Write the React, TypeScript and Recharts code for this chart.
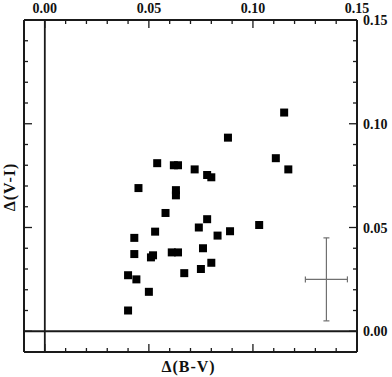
import { ScatterChart, Scatter, XAxis, YAxis, ReferenceLine, ErrorBar } from "recharts";

// Δ(B-V) and Δ(V-I) for each star
const deltaBV = [
  0.054, 0.062, 0.064, 0.072, 0.045, 0.063, 0.063, 0.058, 0.115, 0.088, 0.111, 0.117,
  0.078, 0.080, 0.078, 0.074, 0.103, 0.089, 0.083, 0.076, 0.080, 0.075, 0.067, 0.053,
  0.043, 0.043, 0.051, 0.052, 0.061, 0.064, 0.040, 0.044, 0.050, 0.040,
];
const deltaVI = [
  0.081, 0.080, 0.080, 0.078, 0.069, 0.068, 0.0655, 0.057, 0.1054, 0.0933, 0.0834, 0.078,
  0.0753, 0.0742, 0.054, 0.050, 0.0512, 0.0482, 0.0461, 0.040, 0.033, 0.030, 0.028, 0.048,
  0.045, 0.0372, 0.0356, 0.0366, 0.038, 0.038, 0.027, 0.025, 0.019, 0.010,
];

// typical error shown as a cross
const errX = [0.1353];
const errY = [0.025];
const errBV = [0.0101];
const errVI = [0.02];

const axisTicks = [0, 0.01, 0.02, 0.03, 0.04, 0.05, 0.06, 0.07, 0.08, 0.09, 0.1, 0.11, 0.12, 0.13, 0.14, 0.15];
const majorTicks = [0, 0.05, 0.1, 0.15];
const majorLabels = ["0.00", "0.05", "0.10", "0.15"];

const points = deltaBV.map((x, i) => ({ x, y: deltaVI[i] }));
const errPoint = errX.map((x, i) => ({ x, y: errY[i], ex: errBV[i], ey: errVI[i] }));

const INK = "#1a1a1a";
const font = { fontFamily: "'Liberation Serif', 'Times New Roman', serif", fontWeight: 700 };

function majorLabel(v: number) {
  const i = majorTicks.findIndex((m) => Math.abs(m - v) < 1e-6);
  return i >= 0 ? majorLabels[i] : null;
}

function TopTick({ x, y, payload }: any) {
  const lab = majorLabel(payload.value);
  return (
    <g>
      <line x1={x} x2={x} y1={y} y2={y + (lab ? 8 : 4)} stroke={INK} strokeWidth={1.3} />
      {lab && (
        <text x={x} y={y - 7} textAnchor="middle" fontSize={14} fill="#111" style={font}>
          {lab}
        </text>
      )}
    </g>
  );
}

function BottomTick({ x, y, payload }: any) {
  const lab = majorLabel(payload.value);
  return <line x1={x} x2={x} y1={y} y2={y - (lab ? 8 : 4)} stroke={INK} strokeWidth={1.3} />;
}

function LeftTick({ x, y, payload }: any) {
  const lab = majorLabel(payload.value);
  return <line x1={x} x2={x + (lab ? 8 : 4)} y1={y} y2={y} stroke={INK} strokeWidth={1.3} />;
}

function RightTick({ x, y, payload }: any) {
  const lab = majorLabel(payload.value);
  return (
    <g>
      <line x1={x} x2={x - (lab ? 8 : 4)} y1={y} y2={y} stroke={INK} strokeWidth={1.3} />
      {lab && (
        <text x={x + 6} y={y + 5} textAnchor="start" fontSize={14} fill="#111" style={font}>
          {lab}
        </text>
      )}
    </g>
  );
}

const Square = ({ cx, cy }: any) => <rect x={cx - 4} y={cy - 4} width={8} height={8} fill="#000" />;
const Nothing = () => <g />;

export default function App() {
  return (
    <div style={{ position: "absolute", left: 0, top: 0, background: "#fff" }}>
      <ScatterChart width={392} height={377} margin={{ top: 0, right: 0, bottom: 0, left: 0 }}>
        <XAxis
          xAxisId="t"
          orientation="top"
          type="number"
          dataKey="x"
          domain={[-0.01, 0.15]}
          allowDataOverflow
          ticks={axisTicks}
          interval={0}
          height={20}
          tickSize={0}
          tickMargin={0}
          tick={<TopTick />}
          axisLine={{ stroke: INK, strokeWidth: 2 }}
        />
        <XAxis
          xAxisId="b"
          orientation="bottom"
          type="number"
          dataKey="x"
          domain={[-0.01, 0.15]}
          allowDataOverflow
          ticks={axisTicks}
          interval={0}
          height={25}
          tickSize={0}
          tickMargin={0}
          tick={<BottomTick />}
          axisLine={{ stroke: INK, strokeWidth: 2 }}
          label={{
            content: ({ viewBox }: any) => (
              <text
                x={viewBox.x + viewBox.width / 2 - 2}
                y={viewBox.y + 20}
                textAnchor="middle"
                fontSize={16}
                letterSpacing={1}
                fill="#111"
                style={font}
              >
                Δ(B-V)
              </text>
            ),
          }}
        />
        <YAxis
          yAxisId="l"
          orientation="left"
          type="number"
          dataKey="y"
          domain={[-0.01, 0.15]}
          allowDataOverflow
          ticks={axisTicks}
          interval={0}
          width={24}
          tickSize={0}
          tickMargin={0}
          tick={<LeftTick />}
          axisLine={{ stroke: INK, strokeWidth: 2 }}
          label={{
            content: ({ viewBox }: any) => {
              const cx = viewBox.x + 9;
              const cy = viewBox.y + viewBox.height / 2 + 1;
              return (
                <text
                  x={cx}
                  y={cy}
                  transform={`rotate(-90, ${cx}, ${cy})`}
                  textAnchor="middle"
                  dominantBaseline="central"
                  fontSize={16}
                  letterSpacing={1}
                  fill="#111"
                  style={font}
                >
                  Δ(V-I)
                </text>
              );
            },
          }}
        />
        <YAxis
          yAxisId="r"
          orientation="right"
          type="number"
          dataKey="y"
          domain={[-0.01, 0.15]}
          allowDataOverflow
          ticks={axisTicks}
          interval={0}
          width={35}
          tickSize={0}
          tickMargin={0}
          tick={<RightTick />}
          axisLine={{ stroke: INK, strokeWidth: 2 }}
        />
        <ReferenceLine xAxisId="t" yAxisId="r" x={0} stroke={INK} strokeWidth={1.8} />
        <ReferenceLine xAxisId="t" yAxisId="r" y={0} stroke={INK} strokeWidth={1.8} />
        <Scatter xAxisId="t" yAxisId="r" data={points} shape={<Square />} isAnimationActive={false} />
        <Scatter xAxisId="b" yAxisId="l" data={errPoint} shape={<Nothing />} isAnimationActive={false}>
          <ErrorBar dataKey="ey" direction="y" width={3} stroke="#707070" strokeWidth={1.2} />
          <ErrorBar dataKey="ex" direction="x" width={3} stroke="#707070" strokeWidth={1.2} />
        </Scatter>
      </ScatterChart>
    </div>
  );
}
